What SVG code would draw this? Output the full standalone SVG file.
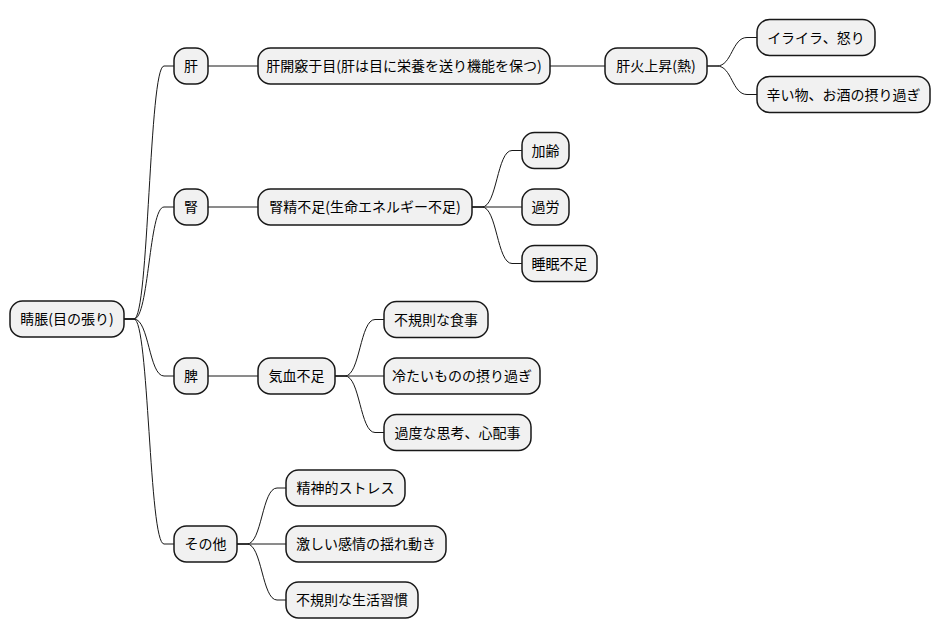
<svg xmlns="http://www.w3.org/2000/svg" width="941" height="640" viewBox="0 0 941 640">
<style>
rect{fill:#F1F1F1;stroke:#181818;stroke-width:1.5}
text{font-family:"Noto Sans CJK JP","Liberation Sans",sans-serif;font-size:14px;fill:#000;text-anchor:middle}
.c path{fill:none;stroke:#181818;stroke-width:1}
</style>
<rect x="0" y="0" width="941" height="640" style="fill:#fff;stroke:none"/>
<g class="c" id="connectors">
<path d="M124,319 L134,319 C149,319 149,66 164,66 L174,66"/>
<path d="M124,319 L134,319 C149,319 149,207 164,207 L174,207"/>
<path d="M124,319 L134,319 C149,319 149,376 164,376 L174,376"/>
<path d="M124,319 L134,319 C149,319 149,544 164,544 L174,544"/>
<path d="M208,66 L258,66"/>
<path d="M550,66 L605,66"/>
<path d="M707,66 L717,66 C732,66 732,37.5 747,37.5 L757,37.5"/>
<path d="M707,66 L717,66 C732,66 732,94.5 747,94.5 L757,94.5"/>
<path d="M208,207 L258,207"/>
<path d="M472,207 L482,207 C497,207 497,150.5 512,150.5 L522,150.5"/>
<path d="M472,207 L522,207"/>
<path d="M472,207 L482,207 C497,207 497,263.5 512,263.5 L522,263.5"/>
<path d="M208,376 L258,376"/>
<path d="M335,376 L345,376 C360,376 360,319.5 375,319.5 L384,319.5"/>
<path d="M335,376 L384,376"/>
<path d="M335,376 L345,376 C360,376 360,432.5 375,432.5 L384,432.5"/>
<path d="M237,544 L247,544 C262,544 262,488 277,488 L286,488"/>
<path d="M237,544 L286,544"/>
<path d="M237,544 L247,544 C262,544 262,600 277,600 L286,600"/>
</g>
<g id="root"><rect x="10" y="301" width="114" height="36" rx="12.5"/><text x="67" y="324">睛脹(目の張り)</text></g>
<g id="kan"><rect x="174" y="48" width="34" height="36" rx="12.5"/><text x="191" y="71">肝</text></g>
<g id="kan1"><rect x="258" y="48" width="292" height="36" rx="12.5"/><text x="404" y="71">肝開竅于目(肝は目に栄養を送り機能を保つ)</text></g>
<g id="kan2"><rect x="605" y="48" width="102" height="36" rx="12.5"/><text x="656" y="71">肝火上昇(熱)</text></g>
<g id="kan3"><rect x="757" y="19.5" width="118" height="36" rx="12.5"/><text x="816" y="42.5">イライラ、怒り</text></g>
<g id="kan4"><rect x="757" y="76.5" width="173" height="36" rx="12.5"/><text x="843.5" y="99.5">辛い物、お酒の摂り過ぎ</text></g>
<g id="jin"><rect x="174" y="189" width="34" height="36" rx="12.5"/><text x="191" y="212">腎</text></g>
<g id="jin1"><rect x="258" y="189" width="214" height="36" rx="12.5"/><text x="365" y="212">腎精不足(生命エネルギー不足)</text></g>
<g id="jin2"><rect x="522" y="132.5" width="47" height="36" rx="12.5"/><text x="545.5" y="155.5">加齢</text></g>
<g id="jin3"><rect x="522" y="189" width="47" height="36" rx="12.5"/><text x="545.5" y="212">過労</text></g>
<g id="jin4"><rect x="522" y="245.5" width="75" height="36" rx="12.5"/><text x="559.5" y="268.5">睡眠不足</text></g>
<g id="hi"><rect x="174" y="358" width="34" height="36" rx="12.5"/><text x="191" y="381">脾</text></g>
<g id="hi1"><rect x="258" y="358" width="77" height="36" rx="12.5"/><text x="296.5" y="381">気血不足</text></g>
<g id="hi2"><rect x="384" y="301.5" width="104" height="36" rx="12.5"/><text x="436" y="324.5">不規則な食事</text></g>
<g id="hi3"><rect x="384" y="358" width="156" height="36" rx="12.5"/><text x="462" y="381">冷たいものの摂り過ぎ</text></g>
<g id="hi4"><rect x="384" y="414.5" width="147" height="36" rx="12.5"/><text x="457.5" y="437.5">過度な思考、心配事</text></g>
<g id="other"><rect x="174" y="526" width="63" height="36" rx="12.5"/><text x="205.5" y="549">その他</text></g>
<g id="other1"><rect x="286" y="470" width="119" height="36" rx="12.5"/><text x="345.5" y="493">精神的ストレス</text></g>
<g id="other2"><rect x="286" y="526" width="160" height="36" rx="12.5"/><text x="366" y="549">激しい感情の揺れ動き</text></g>
<g id="other3"><rect x="286" y="582" width="132" height="36" rx="12.5"/><text x="352" y="605">不規則な生活習慣</text></g>
</svg>
